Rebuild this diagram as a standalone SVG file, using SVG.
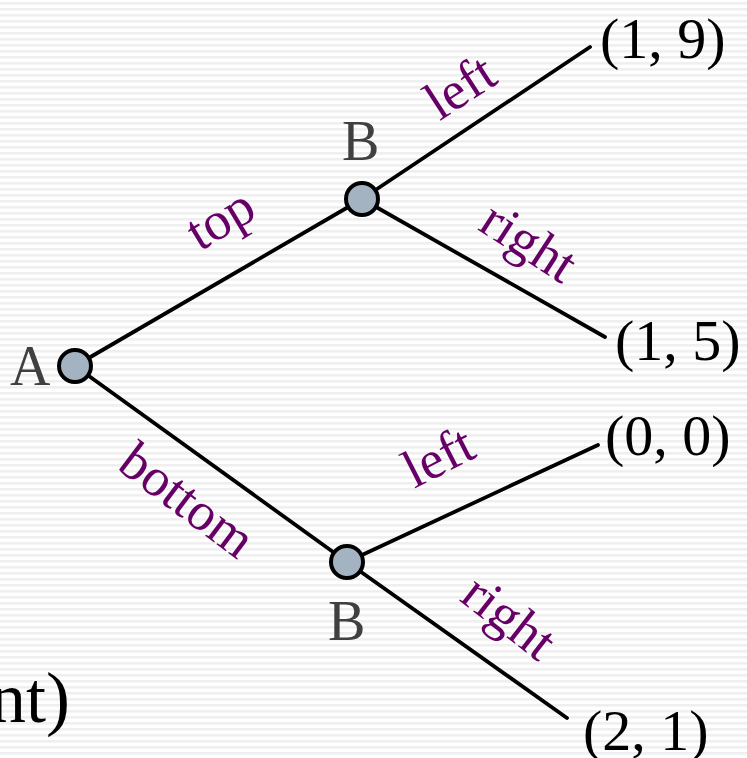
<svg xmlns="http://www.w3.org/2000/svg" width="747" height="758" viewBox="0 0 747 758">
<defs>
<pattern id="stripes" x="0" y="2" width="747" height="6" patternUnits="userSpaceOnUse">
<rect x="0" y="0" width="747" height="2.6" fill="#efefef"/>
</pattern>
<style>
.edge{stroke:#000;stroke-width:3.8;fill:none;stroke-linecap:round}
.node{fill:#a3b3c1;stroke:#000;stroke-width:4}
.nlabel{font-family:"Liberation Serif",serif;font-size:56px;fill:#404040}
.payoff{font-family:"Liberation Serif",serif;font-size:58px;fill:#000}
.elabel{font-family:"Liberation Serif",serif;font-size:54px;fill:#660066;text-anchor:middle}
</style>
</defs>
<rect x="0" y="0" width="747" height="758" fill="#fff"/>
<rect x="0" y="0" width="747" height="758" fill="url(#stripes)"/>
<g id="connectors">
<line class="edge" x1="75" y1="366" x2="362" y2="199"/>
<line class="edge" x1="362" y1="199" x2="590" y2="47"/>
<line class="edge" x1="362" y1="199" x2="605" y2="337"/>
<line class="edge" x1="75" y1="366" x2="347" y2="562"/>
<line class="edge" x1="347" y1="562" x2="598" y2="445"/>
<line class="edge" x1="347" y1="562" x2="567" y2="718"/>
<text class="elabel" transform="translate(222,222) rotate(-31)" y="14">top</text>
<text class="elabel" transform="translate(462,90) rotate(-33)" y="14">left</text>
<text class="elabel" transform="translate(527,245) rotate(33)" y="14">right</text>
<text class="elabel" transform="translate(185,503) rotate(37)" y="14">bottom</text>
<text class="elabel" transform="translate(440,460) rotate(-27)" y="14">left</text>
<text class="elabel" transform="translate(507,620) rotate(38)" y="14">right</text>
</g>
<g id="nodeA">
<circle class="node" cx="75" cy="366" r="16"/>
<text class="nlabel" x="10" y="385">A</text>
</g>
<g id="nodeB1">
<circle class="node" cx="362" cy="199" r="16"/>
<text class="nlabel" x="342" y="160">B</text>
</g>
<g id="nodeB2">
<circle class="node" cx="347" cy="562" r="16"/>
<text class="nlabel" x="328" y="640">B</text>
</g>
<g id="leaf19"><text class="payoff" x="600" y="58">(1, 9)</text></g>
<g id="leaf15"><text class="payoff" x="615" y="360">(1, 5)</text></g>
<g id="leaf00"><text class="payoff" x="605" y="455">(0, 0)</text></g>
<g id="leaf21"><text class="payoff" x="583" y="750">(2, 1)</text></g>
<text x="70" y="722" text-anchor="end" font-family="Liberation Serif, serif" font-size="72" fill="#000">nt)</text>
</svg>
